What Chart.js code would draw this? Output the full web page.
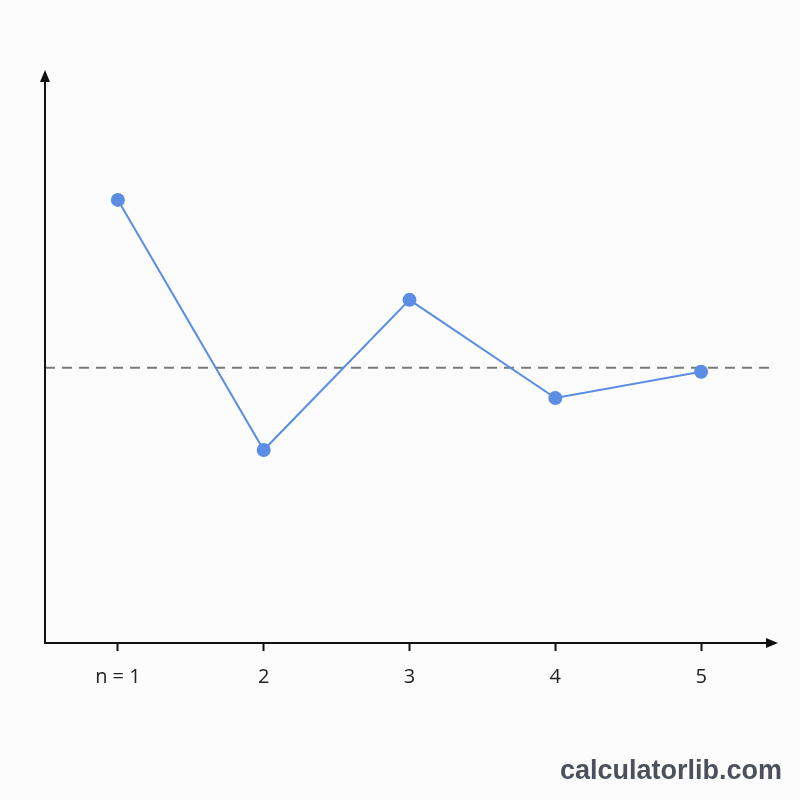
<!DOCTYPE html>
<html>
<head>
<meta charset="utf-8">
<script src="https://cdn.jsdelivr.net/npm/chart.js@4"></script>
<style>
  html, body { margin: 0; padding: 0; background: #fcfcfc; }
  #wrap { position: relative; width: 800px; height: 800px; }
  #mark {
    position: absolute; right: 18px; top: 755px;
    font: bold 27px "Liberation Sans", Arial, sans-serif;
    color: #4b505c;
  }
</style>
</head>
<body>
<div id="wrap">
  <canvas id="c" width="800" height="800"></canvas>
  <div id="mark">calculatorlib.com</div>
</div>
<script>
// Data
const termIndex = [1, 2, 3, 4, 5];
const termValue = [7.76, 3.38, 6.01, 4.29, 4.75];
const limitValue = 4.82;
const tickLabels = ['n = 1', '2', '3', '4', '5'];

const X_MIN = 0.5, X_MAX = 5.5;
const Y_MIN = 0, Y_MAX = 10;

const BLUE = '#5a8de3';
const AXIS = '#111';

// Axes with arrowheads
const axesPlugin = {
  id: 'axes',
  afterDatasetsDraw(chart) {
    const { ctx, chartArea: a } = chart;
    ctx.save();
    ctx.strokeStyle = AXIS;
    ctx.fillStyle = AXIS;
    ctx.lineWidth = 2;
    // y axis
    ctx.beginPath();
    ctx.moveTo(a.left, a.bottom + 1);
    ctx.lineTo(a.left, a.top);
    ctx.stroke();
    ctx.beginPath();
    ctx.moveTo(a.left, a.top - 2);
    ctx.lineTo(a.left - 5, a.top + 10);
    ctx.lineTo(a.left + 5, a.top + 10);
    ctx.closePath();
    ctx.fill();
    // x axis
    ctx.beginPath();
    ctx.moveTo(a.left - 1, a.bottom);
    ctx.lineTo(a.right, a.bottom);
    ctx.stroke();
    ctx.beginPath();
    ctx.moveTo(a.right + 4, a.bottom);
    ctx.lineTo(a.right - 8, a.bottom - 5);
    ctx.lineTo(a.right - 8, a.bottom + 5);
    ctx.closePath();
    ctx.fill();
    ctx.restore();
  },
};

new Chart(document.getElementById('c').getContext('2d'), {
  type: 'line',
  data: {
    datasets: [
      {
        label: 'limit',
        data: [{ x: X_MIN, y: limitValue }, { x: X_MAX - 0.015, y: limitValue }],
        borderColor: '#7a7a7a',
        borderWidth: 2,
        borderDash: [10, 7],
        pointRadius: 0,
        order: 2,
      },
      {
        label: 'a_n',
        data: termIndex.map((x, i) => ({ x, y: termValue[i] })),
        borderColor: BLUE,
        backgroundColor: BLUE,
        borderWidth: 2,
        pointRadius: 7,
        pointBorderWidth: 0,
        tension: 0,
        order: 1,
      },
    ],
  },
  options: {
    responsive: false,
    animation: false,
    layout: { padding: { top: 72, right: 26, left: 0, bottom: 0 } },
    plugins: { legend: { display: false }, tooltip: { enabled: false } },
    scales: {
      x: {
        type: 'linear',
        min: X_MIN,
        max: X_MAX,
        afterBuildTicks: (s) => { s.ticks = termIndex.map(v => ({ value: v })); },
        afterFit: (s) => { s.height = 157; },
        border: { display: false },
        grid: { drawOnChartArea: false, drawTicks: true, tickLength: 8, tickWidth: 2, tickColor: AXIS },
        ticks: {
          padding: 14,
          color: '#222',
          font: { family: '"Open Sans", sans-serif', size: 20 },
          callback: (v) => tickLabels[termIndex.indexOf(v)] ?? '',
        },
      },
      y: {
        min: Y_MIN,
        max: Y_MAX,
        afterFit: (s) => { s.width = 45; },
        border: { display: false },
        grid: { display: false },
        ticks: { display: false },
      },
    },
  },
  plugins: [axesPlugin],
});
</script>
</body>
</html>
